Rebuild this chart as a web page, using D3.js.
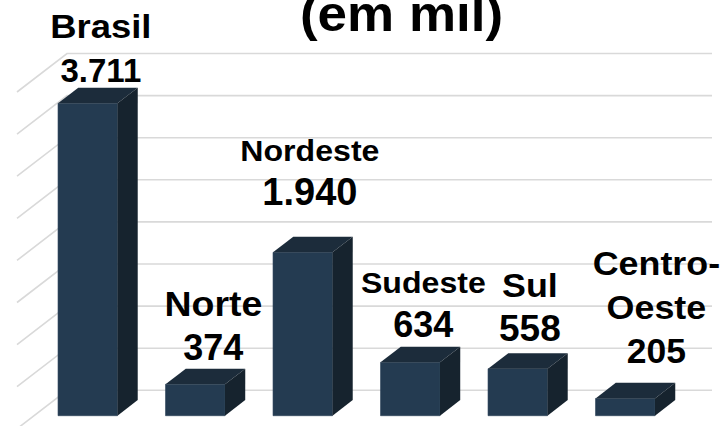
<!DOCTYPE html>
<html>
<head>
<meta charset="utf-8">
<script src="https://cdn.jsdelivr.net/npm/d3@7"></script>
<style>
    body { margin: 0; background: #fff; }
    text { font-family: "Liberation Sans", Arial, sans-serif; font-weight: bold; fill: #000; }
</style>
</head>
<body>
<svg id="chart" width="726" height="426"></svg>
<script>
// data
const regions = ['Brasil', 'Norte', 'Nordeste', 'Sudeste', 'Sul', 'Centro-Oeste'];
const nameLines = [['Brasil'], ['Norte'], ['Nordeste'], ['Sudeste'], ['Sul'], ['Centro-', 'Oeste']];
const values = [3711, 374, 1940, 634, 558, 205];
const valueLabels = ['3.711', '374', '1.940', '634', '558', '205'];
const ticks = [0, 500, 1000, 1500, 2000, 2500, 3000, 3500, 4000];
const title = '(em mil)';

// layout (3d box: front floor edge + depth vector towards back wall)
const floor = { x0: 17, x1: 662, y0: 428.8, h: 336.8 };
const depth = { dx: 50, dy: -38.5 };
const barFront = 0.34, barBack = 0.745;
// labels were moved by hand in the original, so each gets a nudge
const labelNudge = [[3, 2], [8, -1], [-3, -24], [3, -2], [2, -4], [21, -12]];
const nameSize = [34, 35, 30, 30, 33.5, 33.5];
const valueSize = [33, 36, 38, 36, 37, 35.5];
const nameStretch = 1.07;
const lineGap = 44;

const colors = { front: '#243b51', top: '#1c2c3b', side: '#16232e', grid: '#d9d9d9' };

const svg = d3.select('#chart');

const x = d3.scaleBand()
    .domain(regions)
    .range([floor.x0, floor.x1])
    .paddingInner(0.447)
    .paddingOuter(0.2235);
const h = d3.scaleLinear().domain([0, 4000]).range([0, floor.h]);

// project (px on front floor, value, depth 0..1) to screen
const pt = (px, v, d) => [px + depth.dx * d, floor.y0 - h(v) + depth.dy * d];
const poly = pts => pts.map(p => p.join(',')).join(' ');

// gridlines: diagonal on side wall + horizontal on back wall
svg.append('g')
    .selectAll('polyline')
    .data(ticks)
    .join('polyline')
    .attr('points', v => poly([pt(floor.x0, v, 0), pt(floor.x0, v, 1), pt(floor.x1, v, 1)]))
    .attr('fill', 'none')
    .attr('stroke', colors.grid)
    .attr('stroke-width', 1.6);

// bars
const bars = svg.append('g')
    .selectAll('g')
    .data(regions)
    .join('g');

bars.each(function (r, i) {
    let g = d3.select(this);
    let xl = x(r), xr = x(r) + x.bandwidth(), v = values[i];
    g.append('polygon')
        .attr('points', poly([pt(xl, 0, barFront), pt(xr, 0, barFront), pt(xr, v, barFront), pt(xl, v, barFront)]))
        .attr('fill', colors.front)
        .attr('stroke', '#2b4257')
        .attr('stroke-width', 0.6);
    g.append('polygon')
        .attr('points', poly([pt(xl, v, barFront), pt(xr, v, barFront), pt(xr, v, barBack), pt(xl, v, barBack)]))
        .attr('fill', colors.top);
    g.append('polygon')
        .attr('points', poly([pt(xr, 0, barFront), pt(xr, 0, barBack), pt(xr, v, barBack), pt(xr, v, barFront)]))
        .attr('fill', colors.side);
});

// labels: name lines above value, centered over the bar top
const labels = svg.append('g')
    .selectAll('g')
    .data(regions)
    .join('g')
    .attr('text-anchor', 'middle');

labels.each(function (r, i) {
    let g = d3.select(this);
    let cx = pt(x(r) + x.bandwidth() / 2, values[i], (barFront + barBack) / 2)[0] + labelNudge[i][0];
    let base = pt(0, values[i], barBack)[1] - 8 + labelNudge[i][1];
    g.append('text')
        .attr('x', cx)
        .attr('y', base)
        .style('font-size', valueSize[i] + 'px')
        .text(valueLabels[i]);
    let lines = nameLines[i];
    lines.forEach((t, j) => {
        g.append('text')
            .attr('transform', 'translate(' + cx + ',' + (base - lineGap * (lines.length - j)) + ') scale(' + nameStretch + ',1)')
            .style('font-size', nameSize[i] + 'px')
            .text(t);
    });
});

// title (cut at the top in the original)
svg.append('text')
    .attr('text-anchor', 'middle')
    .attr('transform', 'translate(401.5,31) scale(1.06,1)')
    .style('font-size', '50px')
    .text(title);
</script>
</body>
</html>
